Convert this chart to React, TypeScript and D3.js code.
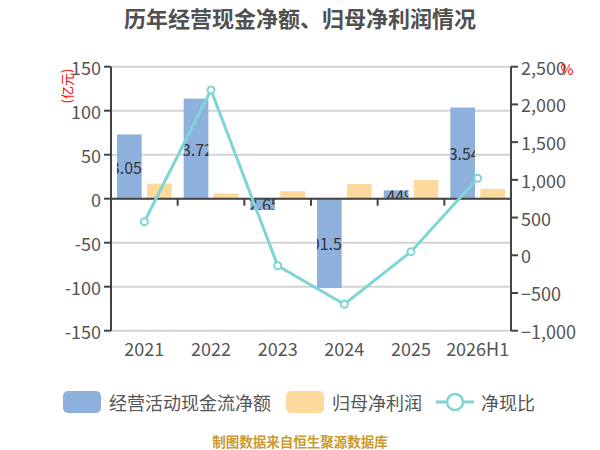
import { useMemo } from 'react';
import * as d3 from 'd3';

const categories = ['2021', '2022', '2023', '2024', '2025', '2026H1'];
const cashFlow = [73.05, 113.72, -12.65, -101.54, 9.44, 103.54];
const netProfit = [17.0, 6.1, 8.6, 16.7, 21.2, 11.0];
const cashRatio = [445, 2191, -138, -650, 48, 1021];
const leftTicks = [150, 100, 50, 0, -50, -100, -150];
const rightTicks = [2500, 2000, 1500, 1000, 500, 0, -500, -1000];

const WIDTH = 600;
const HEIGHT = 450;
const PLOT = { left: 111, right: 511, top: 66.7, bottom: 330.7 };
const FONT = '"Noto Sans CJK SC", "Noto Sans", sans-serif';
const BLUE = '#8eb0dd';
const YELLOW = '#fdd99b';
const TEAL = '#7fd5d5';
const AXIS = '#444';
const TEXT = '#555';

export default function App() {
  const x = useMemo(
    () => d3.scaleBand<string>().domain(categories).range([PLOT.left, PLOT.right]),
    [],
  );
  const sub = useMemo(
    () => d3.scaleBand<string>()
      .domain(['cash', 'profit'])
      .range([0, x.bandwidth()])
      .paddingInner(0.177)
      .paddingOuter(0.2),
    [x],
  );
  const yL = d3.scaleLinear().domain([-150, 150]).range([PLOT.bottom, PLOT.top]);
  const yR = d3.scaleLinear().domain([-1000, 2500]).range([PLOT.bottom, PLOT.top]);
  const fmtR = d3.format(',');
  const fmtLabel = (v: number) => `${d3.format('.2f')(v)}%`;

  const linePath = d3.line<number>()
    .x((_, i) => (x(categories[i]) ?? 0) + x.bandwidth() / 2)
    .y((d) => yR(d))(cashRatio);

  const bw = sub.bandwidth();

  return (
    <svg
      width={WIDTH}
      height={HEIGHT}
      style={{ position: 'absolute', left: 0, top: 0, fontFamily: FONT }}
    >
      <text
        x={300}
        y={17}
        textAnchor="middle"
        dominantBaseline="central"
        fontSize={22}
        fontWeight="bold"
        fill="#505050"
      >
        历年经营现金净额、归母净利润情况
      </text>

      {/* grid */}
      {leftTicks.map((t) => (
        <line
          key={`g${t}`}
          x1={PLOT.left}
          x2={PLOT.right}
          y1={yL(t)}
          y2={yL(t)}
          stroke="#d3d3d3"
          strokeWidth={2}
        />
      ))}

      {/* bars */}
      {categories.map((c, i) => {
        const x0 = (x(c) ?? 0) + (sub('cash') ?? 0);
        const y0 = Math.min(yL(0), yL(cashFlow[i]));
        const h = Math.abs(yL(cashFlow[i]) - yL(0));
        return (
          <g key={`cash${c}`}>
            <clipPath id={`clip${i}`}>
              <rect x={x0} y={y0} width={bw} height={h} />
            </clipPath>
            <rect x={x0} y={y0} width={bw} height={h} fill={BLUE} />
            <text
              x={x0 + bw / 2}
              y={y0 + h / 2}
              textAnchor="middle"
              dominantBaseline="central"
              fontSize={16}
              fill="#333"
              clipPath={`url(#clip${i})`}
            >
              {fmtLabel(cashFlow[i])}
            </text>
          </g>
        );
      })}
      {categories.map((c, i) => {
        const x0 = (x(c) ?? 0) + (sub('profit') ?? 0);
        return (
          <rect
            key={`np${c}`}
            x={x0}
            y={Math.min(yL(0), yL(netProfit[i]))}
            width={bw}
            height={Math.abs(yL(netProfit[i]) - yL(0))}
            fill={YELLOW}
          />
        );
      })}

      {/* axes */}
      <line x1={PLOT.left} x2={PLOT.left} y1={PLOT.top} y2={PLOT.bottom} stroke={AXIS} strokeWidth={2} />
      <line x1={PLOT.right} x2={PLOT.right} y1={PLOT.top} y2={PLOT.bottom} stroke={AXIS} strokeWidth={2} />
      <line x1={PLOT.left} x2={PLOT.right} y1={yL(0)} y2={yL(0)} stroke={AXIS} strokeWidth={2} />
      {leftTicks.map((t) => (
        <g key={`lt${t}`}>
          <line x1={PLOT.left - 7} x2={PLOT.left} y1={yL(t)} y2={yL(t)} stroke={AXIS} strokeWidth={2} />
          <text
            x={PLOT.left - 10}
            y={yL(t)}
            textAnchor="end"
            dominantBaseline="central"
            fontSize={18}
            fill={TEXT}
          >
            {t}
          </text>
        </g>
      ))}
      {rightTicks.map((t) => (
        <g key={`rt${t}`}>
          <line x1={PLOT.right} x2={PLOT.right + 7} y1={yR(t)} y2={yR(t)} stroke={AXIS} strokeWidth={2} />
          <text
            x={PLOT.right + 10}
            y={yR(t)}
            dominantBaseline="central"
            fontSize={18}
            fill={TEXT}
          >
            {fmtR(t)}
          </text>
        </g>
      ))}
      {categories.slice(1).map((c) => (
        <line
          key={`xt${c}`}
          x1={x(c) ?? 0}
          x2={x(c) ?? 0}
          y1={yL(0)}
          y2={yL(0) + 7}
          stroke={AXIS}
          strokeWidth={2}
        />
      ))}
      {categories.map((c) => (
        <text
          key={`xl${c}`}
          x={(x(c) ?? 0) + x.bandwidth() / 2}
          y={348}
          textAnchor="middle"
          dominantBaseline="central"
          fontSize={18}
          fill={TEXT}
        >
          {c}
        </text>
      ))}

      <text
        transform="translate(66, 86) rotate(-90)"
        textAnchor="middle"
        dominantBaseline="central"
        fontSize={13}
        fill="#ff0000"
      >
        (亿元)
      </text>
      <text x={567} y={69} textAnchor="middle" dominantBaseline="central" fontSize={14} fill="#ff0000">
        %
      </text>

      {/* line */}
      <path d={linePath ?? ''} fill="none" stroke={TEAL} strokeWidth={3} />
      {cashRatio.map((v, i) => (
        <circle
          key={`pt${i}`}
          cx={(x(categories[i]) ?? 0) + x.bandwidth() / 2}
          cy={yR(v)}
          r={3.5}
          fill="#fff"
          stroke={TEAL}
          strokeWidth={2}
        />
      ))}

      {/* legend */}
      <rect x={63} y={391} width={38} height={22} rx={5} fill={BLUE} />
      <text x={109} y={402} dominantBaseline="central" fontSize={18} fill={TEXT}>
        经营活动现金流净额
      </text>
      <rect x={286} y={391} width={38} height={22} rx={5} fill={YELLOW} />
      <text x={332} y={402} dominantBaseline="central" fontSize={18} fill={TEXT}>
        归母净利润
      </text>
      <line x1={436} x2={474} y1={402} y2={402} stroke={TEAL} strokeWidth={3} />
      <circle cx={455} cy={402} r={8} fill="#fff" stroke={TEAL} strokeWidth={2.5} />
      <text x={481} y={402} dominantBaseline="central" fontSize={18} fill={TEXT}>
        净现比
      </text>

      <text
        x={300}
        y={441}
        textAnchor="middle"
        dominantBaseline="central"
        fontSize={13.5}
        fontWeight="bold"
        fill="#cc9a2e"
      >
        制图数据来自恒生聚源数据库
      </text>
    </svg>
  );
}
